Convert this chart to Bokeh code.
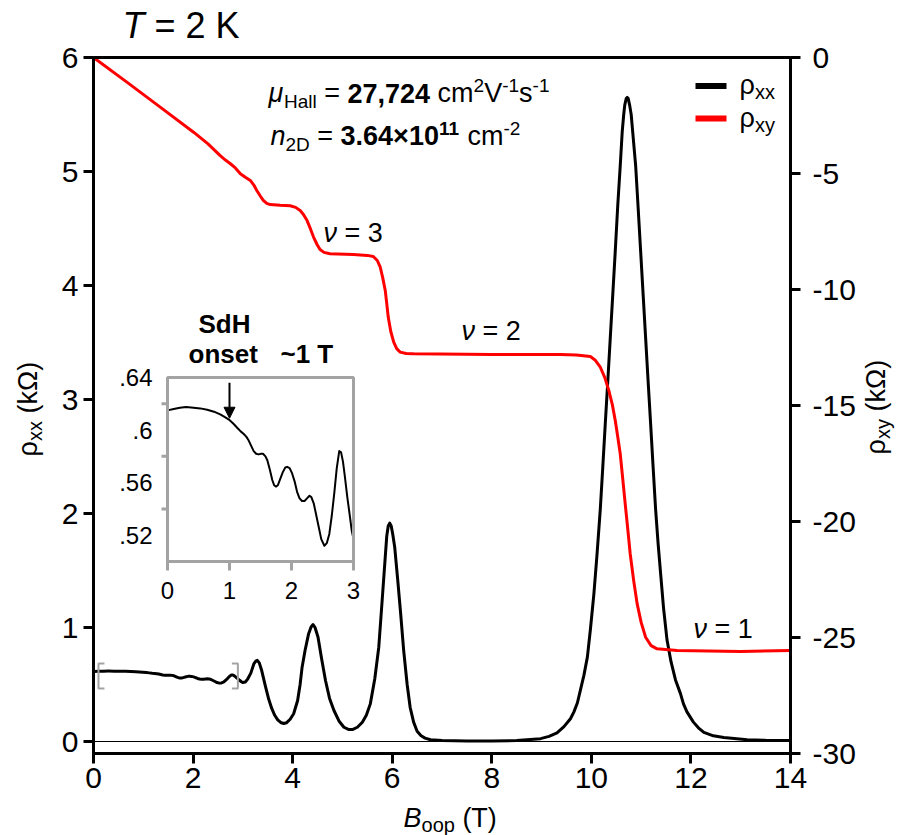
import math
from bokeh.plotting import figure
from bokeh.models import (Range1d, LinearAxis, FixedTicker, Label,
                          BoxAnnotation, Arrow, NormalHead)
from bokeh.embed import file_html
from bokeh.resources import INLINE
from bokeh.core.properties import value

FONT = "Liberation Sans"
GRAY = "#a3a3a3"

# ---------------- data ----------------
b_xx = [0.00, 0.10, 0.20, 0.30, 0.42, 0.53, 0.64, 0.75, 0.85, 0.92, 0.99, 1.06,
        1.12, 1.18, 1.23, 1.27, 1.31, 1.35, 1.39, 1.43, 1.47, 1.51, 1.54, 1.58,
        1.61, 1.65, 1.69, 1.72, 1.75, 1.78, 1.82, 1.86, 1.90, 1.93, 1.97, 2.01,
        2.05, 2.09, 2.13, 2.17, 2.21, 2.25, 2.29, 2.32, 2.36, 2.40, 2.44, 2.48,
        2.53, 2.57, 2.61, 2.65, 2.69, 2.73, 2.77, 2.80, 2.83, 2.86, 2.90, 2.94,
        2.97, 3.00, 3.05, 3.10, 3.16, 3.22, 3.26, 3.29, 3.33, 3.38, 3.45, 3.52,
        3.58, 3.64, 3.70, 3.76, 3.82, 3.88, 3.95, 4.02, 4.10, 4.15, 4.19, 4.25,
        4.32, 4.37, 4.41, 4.45, 4.51, 4.58, 4.66, 4.74, 4.83, 4.93, 5.03, 5.12,
        5.20, 5.30, 5.40, 5.48, 5.56, 5.65, 5.73, 5.80, 5.86, 5.89, 5.92, 5.95,
        5.98, 6.01, 6.05, 6.11, 6.17, 6.23, 6.30, 6.36, 6.43, 6.50, 6.58, 6.66,
        6.77, 7.00, 7.50, 8.00, 8.50, 8.98, 9.15, 9.31, 9.45, 9.58, 9.65, 9.72,
        9.78, 9.85, 9.92, 9.98, 10.05, 10.11, 10.18, 10.23, 10.28, 10.33, 10.38,
        10.43, 10.48, 10.53, 10.58, 10.62, 10.65, 10.67, 10.70, 10.72, 10.74,
        10.77, 10.80, 10.83, 10.89, 10.94, 10.99, 11.04, 11.09, 11.14, 11.19,
        11.24, 11.29, 11.34, 11.39, 11.45, 11.52, 11.60, 11.69, 11.79, 11.85,
        11.92, 12.05, 12.15, 12.26, 12.45, 12.66, 13.13, 13.50, 14.00]
rho_xx = [0.615, 0.616, 0.617, 0.6175, 0.617, 0.6165, 0.6155, 0.614, 0.612, 0.610,
          0.608, 0.605, 0.602, 0.599, 0.597, 0.595, 0.592, 0.588, 0.584, 0.582,
          0.5815, 0.582, 0.582, 0.580, 0.577, 0.570, 0.562, 0.558, 0.557, 0.558,
          0.563, 0.568, 0.5715, 0.572, 0.571, 0.567, 0.561, 0.553, 0.548, 0.546,
          0.546, 0.548, 0.550, 0.549, 0.544, 0.535, 0.526, 0.517, 0.512, 0.514,
          0.521, 0.535, 0.552, 0.571, 0.584, 0.583, 0.576, 0.565, 0.549, 0.535,
          0.524, 0.517, 0.522, 0.550, 0.600, 0.680, 0.705, 0.712, 0.690, 0.620,
          0.490, 0.370, 0.290, 0.230, 0.190, 0.167, 0.158, 0.165, 0.195, 0.243,
          0.360, 0.500, 0.652, 0.800, 0.944, 1.005, 1.026, 1.000, 0.915, 0.730,
          0.535, 0.380, 0.272, 0.180, 0.125, 0.106, 0.105, 0.125, 0.169, 0.230,
          0.330, 0.550, 0.827, 1.250, 1.617, 1.800, 1.890, 1.915, 1.890, 1.820,
          1.705, 1.420, 1.120, 0.800, 0.500, 0.300, 0.170, 0.090, 0.050, 0.030,
          0.015, 0.008, 0.005, 0.005, 0.008, 0.025, 0.045, 0.075, 0.130, 0.200,
          0.260, 0.340, 0.450, 0.580, 0.740, 0.980, 1.290, 1.620, 2.040, 2.410,
          2.790, 3.160, 3.540, 3.920, 4.300, 4.700, 5.050, 5.350, 5.500, 5.580,
          5.640, 5.650, 5.640, 5.580, 5.500, 5.350, 5.050, 4.680, 4.300, 3.920,
          3.540, 3.160, 2.790, 2.410, 2.040, 1.740, 1.480, 1.170, 0.890, 0.700,
          0.540, 0.420, 0.330, 0.260, 0.170, 0.120, 0.080, 0.050, 0.035, 0.015,
          0.010, 0.009]

b_xy = [0.00, 0.67, 1.34, 2.01, 2.30, 2.54, 2.65, 2.75, 2.85, 2.95, 3.05, 3.15,
        3.22, 3.28, 3.35, 3.41, 3.48, 3.55, 3.75, 3.95, 4.06, 4.15, 4.22, 4.29,
        4.36, 4.42, 4.49, 4.55, 4.63, 4.75, 5.22, 5.50, 5.62, 5.70, 5.76, 5.81,
        5.86, 5.89, 5.92, 5.97, 6.03, 6.09, 6.16, 6.28, 6.43, 8.00, 9.38, 9.70,
        9.98, 10.08, 10.18, 10.27, 10.35, 10.42, 10.48, 10.53, 10.58, 10.63,
        10.68, 10.73, 10.78, 10.85, 10.92, 11.00, 11.09, 11.20, 11.32, 11.72,
        13.00, 14.00]
rho_xy = [0.00, -1.06, -2.14, -3.22, -3.72, -4.22, -4.42, -4.58, -4.76, -5.01,
          -5.16, -5.30, -5.50, -5.73, -5.97, -6.16, -6.29, -6.34, -6.37, -6.39,
          -6.46, -6.59, -6.78, -7.03, -7.40, -7.74, -8.06, -8.28, -8.40, -8.46,
          -8.49, -8.53, -8.58, -8.75, -9.04, -9.50, -10.04, -10.60, -11.19,
          -11.80, -12.27, -12.55, -12.70, -12.76, -12.77, -12.80, -12.80, -12.82,
          -12.89, -13.05, -13.35, -13.80, -14.35, -14.95, -15.65, -16.35, -17.08,
          -18.15, -19.24, -20.30, -21.39, -22.55, -23.55, -24.35, -24.99, -25.35,
          -25.49, -25.56, -25.60, -25.56]

x_ticks = [0, 2, 4, 6, 8, 10, 12, 14]
left_ticks = [0, 1, 2, 3, 4, 5, 6]
right_ticks = [-30, -25, -20, -15, -10, -5, 0]
right_tick_labels = ["-30", "-25", "-20", "-15", "-10", "-5", "0"]

inset_b_max = 3.0
inset_rho_range = (0.50, 0.64)
inset_x_ticks = [0, 1, 2, 3]
inset_x_labels = ["0", "1", "2", "3"]
inset_y_ticks = [0.52, 0.56, 0.60, 0.64]
inset_y_labels = [".52", ".56", ".6", ".64"]
inset_y_minor = [0.54, 0.58, 0.62]
sdh_onset_b = 1.0
zoom_box_b = (0.1, 2.9)
zoom_box_rho = (0.465, 0.684)

# inset shows the same measurement, restricted to B <= 3 T
inset_b = [b for b in b_xx if b <= inset_b_max]
inset_rho = [r for b, r in zip(b_xx, rho_xx) if b <= inset_b_max]

# ---------------- layout ----------------
W, H = 897, 835
FL, FR, FT, FB = 93, 790, 57, 753      # visible plot box, pixels
ZERO_PX = 741                           # pixel row of rho_xx = 0
XR = (0.0, 14.0)
YR = (-6.0 * (FB - ZERO_PX) / (ZERO_PX - FT), 6.0)
RR = (-30.0, 0.0)
LABEL_DROP = 0.35                       # label renders this many em below its anchor


def dx(px):
    return XR[0] + (px - FL) * (XR[1] - XR[0]) / (FR - FL)


def dy(py):
    return YR[1] - (py - FT) * (YR[1] - YR[0]) / (FB - FT)


def dr(py):
    return RR[1] - (py - FT) * (RR[1] - RR[0]) / (FB - FT)


# the frame fills the whole canvas; axes are pinned at the plot-box edges
p = figure(width=W, height=H, x_range=Range1d(dx(0), dx(W)),
           y_range=Range1d(dy(H), dy(0)), output_backend="svg",
           toolbar_location=None, title=None, min_border=0,
           x_axis_type=None, y_axis_type=None)
p.min_border_left = p.min_border_right = p.min_border_top = p.min_border_bottom = 0
p.outline_line_color = None
p.background_fill_color = "white"
p.border_fill_color = "white"
p.extra_y_ranges = {"rxy": Range1d(dr(H), dr(0))}


def make_axis(ticks, standoff, loc, bounds, **kw):
    ax = LinearAxis(fixed_location=loc, bounds=bounds, **kw)
    ax.ticker = FixedTicker(ticks=ticks, minor_ticks=[])
    ax.axis_line_width = 3
    ax.axis_line_color = "black"
    ax.major_tick_line_width = 3
    ax.major_tick_line_color = "black"
    ax.major_tick_out = 10
    ax.major_tick_in = 0
    ax.minor_tick_line_color = None
    ax.major_label_text_font = FONT
    ax.major_label_text_font_size = "30px"
    ax.major_label_text_color = "black"
    ax.major_label_standoff = standoff
    return ax


xax = make_axis(x_ticks, 4, YR[0], XR)
lax = make_axis(left_ticks, 5, XR[0], YR)
rax = make_axis(right_ticks, 12, XR[1], RR, y_range_name="rxy")
rax.major_label_overrides = {t: s for t, s in zip(right_ticks, right_tick_labels)}
p.add_layout(xax, "below")
p.add_layout(lax, "left")
p.add_layout(rax, "right")

# plot box outline
p.add_layout(BoxAnnotation(left=XR[0], right=XR[1], bottom=YR[0], top=YR[1],
                           fill_alpha=0, line_color="black", line_width=3,
                           line_alpha=1))

# zero line
p.segment(x0=[XR[0]], y0=[0], x1=[XR[1]], y1=[0], line_color="black", line_width=1)

# curves
p.line(b_xx, rho_xx, line_color="black", line_width=3, line_join="round")
p.line(b_xy, rho_xy, y_range_name="rxy", line_color="#ff0000", line_width=3,
       line_join="round")

# gray brackets marking the inset range
bx0, bx1 = zoom_box_b
by0, by1 = zoom_box_rho
stub = 0.12
p.multi_line(xs=[[bx0 + stub, bx0, bx0, bx0 + stub], [bx1 - stub, bx1, bx1, bx1 - stub]],
             ys=[[by1, by1, by0, by0], [by1, by1, by0, by0]],
             line_color=GRAY, line_width=2)

# ---------------- rich text helper ----------------
DIG = {str(d): 0.556 for d in range(10)}
REG = {**DIG, ' ': .278, '(': .333, ')': .333, ',': .278, '-': .333, '.': .278,
       '=': .584, '×': .584, '~': .584, 'B': .667, 'D': .722, 'H': .722,
       'K': .667, 'T': .611, 'V': .667, 'a': .556, 'c': .5, 'd': .556, 'e': .556,
       'k': .5, 'l': .222, 'm': .833, 'n': .556, 'o': .556, 'p': .556, 's': .5,
       't': .278, 'x': .5, 'y': .5, 'Ω': .768, 'ρ': .578, 'μ': .576, 'ν': .5}
BLD = {**DIG, ' ': .278, ',': .278, '.': .278, '×': .584, '~': .584, 'S': .667,
       'd': .611, 'H': .722, 'o': .611, 'n': .611, 's': .556, 'e': .556,
       't': .333, 'T': .611}


def tw(text, size, style):
    table = BLD if "bold" in style else REG
    return sum(table.get(c, 0.556) for c in text) * size


def rich(x_px, y_px, pieces, angle=0.0):
    """Place text pieces side by side; (x_px, y_px) is the baseline start."""
    ca, sa = math.cos(angle), math.sin(angle)
    cx, cy = x_px, y_px
    for text, size, style, shift in pieces:
        core = text.strip(" ")
        lead = len(text) - len(text.lstrip(" "))
        trail = len(text) - len(text.rstrip(" "))
        a0 = tw(" " * lead, size, style)
        cx += a0 * ca
        cy -= a0 * sa
        if core:
            down = shift - LABEL_DROP * size
            ox = cx + down * sa
            oy = cy + down * ca
            p.add_layout(Label(x=dx(ox), y=dy(oy), text=core, angle=angle,
                               text_font=FONT, text_font_size=f"{size}px",
                               text_font_style=style, text_color="black",
                               text_align="left", text_baseline="alphabetic"))
        a1 = tw(core, size, style) + tw(" " * trail, size, style)
        cx += a1 * ca
        cy -= a1 * sa


# title
rich(122, 38, [("T", 36, "italic", 0), (" = 2 K", 36, "normal", 0)])

# Hall mobility and density
rich(268, 102, [("μ", 27, "italic", 0), ("Hall", 19, "normal", 6),
                (" = ", 27, "normal", 0), ("27,724", 27, "bold", 0),
                (" cm", 27, "normal", 0), ("2", 19, "normal", -10),
                ("V", 27, "normal", 0), ("-1", 19, "normal", -10),
                ("s", 27, "normal", 0), ("-1", 19, "normal", -10)])
rich(270, 145, [("n", 27, "italic", 0), ("2D", 19, "normal", 6),
                (" = ", 27, "normal", 0), ("3.64×10", 27, "bold", 0),
                ("11", 19, "bold", -10), (" cm", 27, "normal", 0),
                ("-2", 19, "normal", -10)])

# filling factor labels
rich(323, 242, [("ν", 27, "italic", 0), (" = 3", 27, "normal", 0)])
rich(461, 340, [("ν", 27, "italic", 0), (" = 2", 27, "normal", 0)])
rich(693, 638, [("ν", 27, "italic", 0), (" = 1", 27, "normal", 0)])

# legend
p.add_layout(BoxAnnotation(left=dx(695), right=dx(726), top=dy(82.5), bottom=dy(88.5),
                           fill_color="black", fill_alpha=1, line_color=None))
p.add_layout(BoxAnnotation(left=dx(695), right=dx(726), top=dy(115), bottom=dy(121),
                           fill_color="#ff0000", fill_alpha=1, line_color=None))
rich(739, 94, [("ρ", 27, "normal", 0), ("xx", 20, "normal", 4)])
rich(739, 127, [("ρ", 27, "normal", 0), ("xy", 20, "normal", 4)])

# axis titles
rich(403, 827, [("B", 27, "italic", 0), ("oop", 20, "normal", 4), (" (T)", 27, "normal", 0)])
rich(37, 456, [("ρ", 27, "normal", 0), ("xx", 20, "normal", 4), (" (kΩ)", 27, "normal", 0)],
     angle=math.pi / 2)
rich(885, 454, [("ρ", 27, "normal", 0), ("xy", 20, "normal", 4), (" (kΩ)", 27, "normal", 0)],
     angle=math.pi / 2)

# SdH onset note
rich(198, 333, [("SdH", 26, "bold", 0)])
rich(188, 363, [("onset", 26, "bold", 0)])
rich(280, 363, [("~1 T", 26, "bold", 0)])

# ---------------- inset ----------------
INSET_X = (dx(167), dx(353))
INSET_Y = (dy(561), dy(377))
ins = p.subplot(x_source=Range1d(0, inset_b_max), y_source=Range1d(*inset_rho_range),
                x_target=Range1d(*INSET_X), y_target=Range1d(*INSET_Y))
ins.line(inset_b, inset_rho, line_color="black", line_width=2, line_join="round")
ins.ray(x=inset_x_ticks, y=[inset_rho_range[0]] * len(inset_x_ticks), length=9,
        length_units="screen", angle=-math.pi / 2, line_color=GRAY, line_width=3)
ins.ray(x=[0] * len(inset_y_minor), y=inset_y_minor, length=6, length_units="screen",
        angle=math.pi, line_color=GRAY, line_width=3)
ins.text(x=inset_x_ticks, y=[inset_rho_range[0]] * len(inset_x_ticks), text=inset_x_labels,
         y_offset=29, text_align="center", text_baseline="middle",
         text_font=value(FONT), text_font_size="24px", text_color="black")
ins.text(x=[0] * len(inset_y_ticks), y=inset_y_ticks, text=inset_y_labels,
         x_offset=-15, text_align="right", text_baseline="middle",
         text_font=value(FONT), text_font_size="24px", text_color="black")
p.add_layout(BoxAnnotation(left=INSET_X[0], right=INSET_X[1], bottom=INSET_Y[0],
                           top=INSET_Y[1], fill_alpha=0, line_color=GRAY,
                           line_width=3, line_alpha=1))


def ix(b):
    return INSET_X[0] + b / inset_b_max * (INSET_X[1] - INSET_X[0])


def iy(r):
    lo, hi = inset_rho_range
    return INSET_Y[0] + (r - lo) / (hi - lo) * (INSET_Y[1] - INSET_Y[0])


p.add_layout(Arrow(x_start=ix(sdh_onset_b), y_start=iy(0.636),
                   x_end=ix(sdh_onset_b), y_end=iy(0.609),
                   line_color="black", line_width=2,
                   end=NormalHead(size=11, fill_color="black", line_color="black")))

open("out.html", "w").write(file_html(p, INLINE))
